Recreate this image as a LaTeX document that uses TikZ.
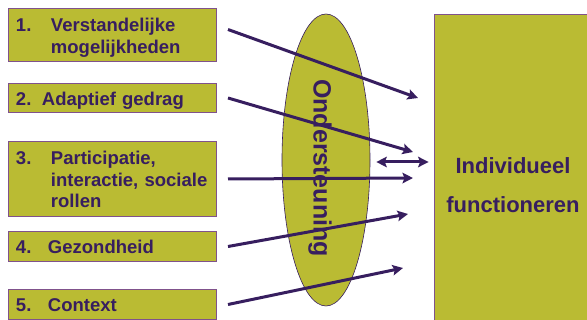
\documentclass[tikz,border=0pt]{standalone}
\usepackage{fontspec}
\setmainfont{Liberation Sans}
\usetikzlibrary{shapes.geometric, arrows.meta}
\definecolor{boxFill}{RGB}{186,187,51}
\definecolor{inkPurple}{RGB}{55,30,95}
\definecolor{edgePurple}{RGB}{128,82,140}
\newcommand{\numItem}[3][35pt]{\raisebox{-3pt}[\height][\depth]{\makebox[#1][l]{#2}\begin{tabular}[t]{@{}l@{}}#3\end{tabular}}}
\tikzstyle{box} = [rectangle, anchor=north west, minimum width=208pt, text width=193pt, inner xsep=7.5pt, inner ysep=0pt, draw=edgePurple, line width=1pt, fill=boxFill, text=inkPurple, font=\fontsize{18.5}{21.6}\selectfont\bfseries]
\tikzstyle{bigBox} = [rectangle, minimum width=158pt, minimum height=342pt, draw=edgePurple, line width=0.8pt, fill=boxFill, text=inkPurple, align=center, font=\fontsize{22}{39}\selectfont\bfseries]
\tikzstyle{supportEllipse} = [ellipse, minimum width=88pt, minimum height=292pt, inner sep=0pt, draw=inkPurple, line width=0.6pt, fill=boxFill]
\tikzstyle{arrow} = [line width=3pt, draw=inkPurple, ->, >={Stealth[length=10.5pt,width=10.5pt,inset=2pt]}]

\begin{document}
\begin{tikzpicture}[x=1pt,y=-1pt]
\useasboundingbox (0,0) rectangle (587,320);
\clip (0,0) rectangle (587,320);

\node (verstand) [box, minimum height=53pt] at (8,8) {\numItem{1.}{Verstandelijke\\mogelijkheden}};
\node (adaptief) [box, minimum height=29pt] at (8,83) {\numItem[26pt]{2.}{Adaptief gedrag}};
\node (participatie) [box, minimum height=75pt] at (8,141) {\numItem{3.}{Participatie,\\interactie, sociale\\rollen}};
\node (gezondheid) [box, minimum height=30pt] at (8,231) {\numItem[32pt]{4.}{Gezondheid}};
\node (context) [box, minimum height=30pt] at (8,289) {\numItem[32pt]{5.}{Context}};

\node (support) [supportEllipse] at (326,160) {};
\node (supportLabel) [rotate=-90, text=inkPurple, font=\fontsize{25}{30}\selectfont\bfseries] at (320,168) {Ondersteuning};

\node (func) [bigBox] at (513,185) {Individueel\\functioneren};

% free ends of the arrows
\coordinate (tip1) at (418,98);
\coordinate (tip2) at (413,152);
\coordinate (tip3) at (413,178);
\coordinate (tip4) at (408,214);
\coordinate (tip5) at (403,268);

\draw [arrow] ([shift={(11,-5.5)}]verstand.east) -- (tip1);
\draw [arrow] ([xshift=11pt]adaptief.east) -- (tip2);
\draw [arrow] ([xshift=11pt]participatie.east) -- (tip3);
\draw [arrow] ([xshift=11pt]gezondheid.east) -- (tip4);
\draw [arrow] ([xshift=11pt]context.east) -- (tip5);
\draw [arrow, <->, shorten <=6pt, shorten >=5pt] ([yshift=-2pt]support.east) -- ([yshift=-2pt]support.east -| func.west);
\end{tikzpicture}
\end{document}
